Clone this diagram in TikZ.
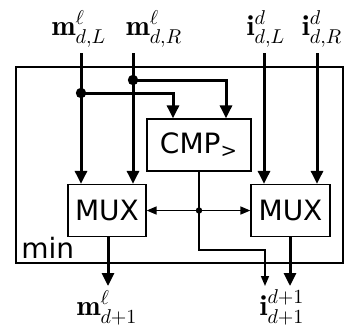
\documentclass[tikz,border=0pt]{standalone}
\usepackage{amsmath,amssymb}
\usepackage{fontspec}
\setsansfont{DejaVu Sans}
\usepackage{tikz}
\usetikzlibrary{arrows.meta}

\tikzset{
  unit/.style={draw,line width=0.65pt,minimum width=#1,minimum height=26pt,inner sep=0pt,font=\sffamily\fontsize{14}{16}\selectfont},
  bus/.style={line width=1.5pt,-{Triangle[length=6.5pt,width=6pt]}},
  sel/.style={line width=0.8pt,-{Triangle[length=5pt,width=4pt]}},
  sig/.style={font=\Large,inner sep=0pt},
}

\begin{document}
\begin{tikzpicture}[x=0.5pt,y=-0.5pt,line cap=butt]
\useasboundingbox (0,0) rectangle (347,334);
% frame
\draw[line width=0.65pt] (16,67) rectangle (343,263);
\node[anchor=base west,inner sep=0pt,font=\sffamily\fontsize{14}{16}\selectfont] (minlbl) at (21,258) {min};
% blocks
\node[unit=52pt] (cmp) at (199,145) {CMP\textsubscript{>}};
\node[unit=39pt] (muxL) at (107,210.5) {MUX};
\node[unit=39.5pt] (muxR) at (290.5,210.5) {MUX};
% inputs
\node[sig,anchor=base] (mL) at (79,35) {$\mathbf{m}^{\ell}_{d,L}$};
\node[sig,anchor=base] (mR) at (154,35) {$\mathbf{m}^{\ell}_{d,R}$};
\node[sig,anchor=base] (iL) at (266,35) {$\mathbf{i}^{d}_{d,L}$};
\node[sig,anchor=base] (iR) at (322,35) {$\mathbf{i}^{d}_{d,R}$};
\coordinate (mLin) at (81,53);
\coordinate (mRin) at (133,53);
\coordinate (iLin) at (264,53);
\coordinate (iRin) at (317,53);
\draw[bus] (mLin) -- (mLin |- muxL.north);
\draw[bus] (mRin) -- (mRin |- muxL.north);
\draw[bus] (iLin) -- (iLin |- muxR.north);
\draw[bus] (iRin) -- (iRin |- muxR.north);
% copies to the comparator
\coordinate (tapL) at (81,93);
\coordinate (tapR) at (133,80);
\draw[bus] (tapL) -| (173,0 |- cmp.north);
\draw[bus] (tapR) -| (226,0 |- cmp.north);
\fill (tapL) circle (2.6pt);
\fill (tapR) circle (2.6pt);
% select
\coordinate (selc) at (cmp.south |- muxL.east);
\draw[sel] (selc) -- (muxL.east);
\draw[sel] (selc) -- (muxR.west);
\draw[line width=0.8pt] (cmp.south) -- (selc);
\fill (selc) circle (1.6pt);
% outputs
\node[sig,anchor=base] (mOut) at (107,315) {$\mathbf{m}^{\ell}_{d+1}$};
\node[sig,anchor=base] (iOut) at (282,315) {$\mathbf{i}^{d+1}_{d+1}$};
\coordinate (mOutEnd) at (108,286);
\coordinate (iOutEnd) at (290,286);
\coordinate (selOut) at (265,286);
\draw[bus] (muxL.south -| mOutEnd) -- (mOutEnd);
\draw[bus] (muxR.south -| iOutEnd) -- (iOutEnd);
\draw[sel] (selc) -- (cmp.south |- 0,250) -| (selOut);
\end{tikzpicture}
\end{document}
